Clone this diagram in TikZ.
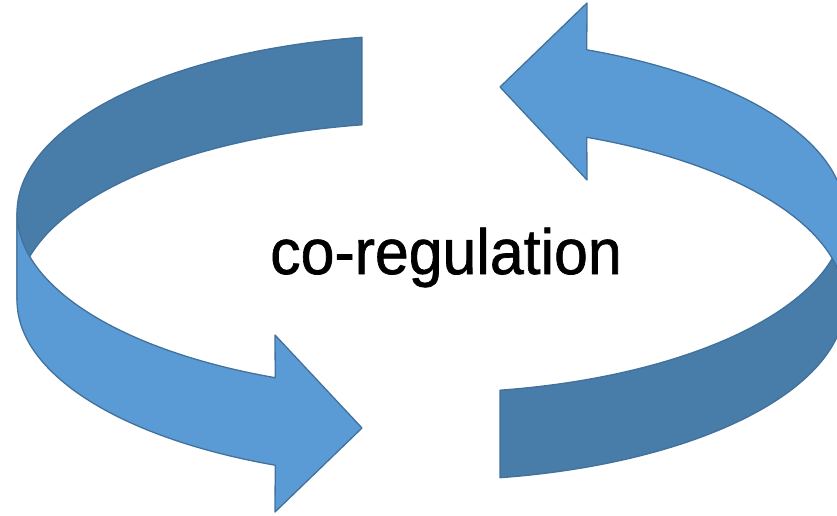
\documentclass[tikz,border=0pt]{standalone}
\usepackage{fontspec}
\setmainfont{Liberation Sans}
\newfontfamily\labelfont[FakeBold=1.1]{Liberation Sans}
\definecolor{ringlight}{HTML}{5B9BD5}
\definecolor{ringdark}{HTML}{487CA9}
\definecolor{ringline}{HTML}{41719C}
\tikzset{
  lightband/.style={fill=ringlight,draw=ringline,line width=1.3pt,line join=round},
  darkband/.style={fill=ringdark,draw=ringline,line width=1.3pt,line join=round}
}
% one half of the ring: inner (dark) back part, outer (light) front part with head
\newcommand{\halfring}{%
  \draw[darkband] plot[domain=260.4:180,samples=60] ({431+414*cos(\x)},{212.8+178*sin(\x)})
    -- plot[domain=180:260.4,samples=60] ({431+414*cos(\x)},{300.3+178*sin(\x)}) -- cycle;
  \draw[lightband] plot[domain=180:112.1,samples=60] ({431+414*cos(\x)},{212.8+178*sin(\x)})
    -- (275,335) -- (362,428) -- (275,512)
    -- plot[domain=112.1:180,samples=60] ({431+414*cos(\x)},{300.3+178*sin(\x)}) -- cycle;
}
\begin{document}
\begin{tikzpicture}[x=1pt,y=-1pt]
\useasboundingbox (0,0) rectangle (837,516);
\clip (0,0) rectangle (837,516);
\halfring
\begin{scope}[rotate around={180:(431,257.5)}]
\halfring
\end{scope}
\node[anchor=base,inner sep=0pt,font=\labelfont\fontsize{64}{70}\selectfont] (label) at (446,274)
  {\scalebox{0.95}[1]{co-regulation}};
\end{tikzpicture}
\end{document}
